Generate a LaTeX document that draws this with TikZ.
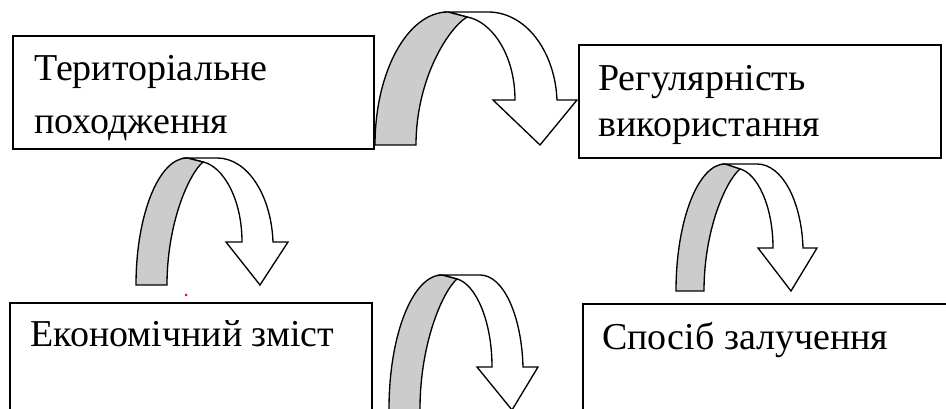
\documentclass[tikz,border=0pt]{standalone}
\usepackage{fontspec}
\setmainfont{Liberation Serif}
\definecolor{bandgray}{RGB}{204,204,204}
\begin{document}
\begin{tikzpicture}[x=0.75pt,y=-0.75pt,
  boxnode/.style={draw=black, line width=1.5pt, fill=white, inner sep=0pt, anchor=north west},
  toptext/.style={inner sep=0pt, anchor=base west, font=\fontsize{28.5}{34}\selectfont},
  bottext/.style={inner sep=0pt, anchor=base west, font=\fontsize{28.5}{34}\selectfont},
  ribbon/.style={draw=black, line width=1pt, line join=miter, fill=white},
  backband/.style={draw=black, line width=1pt, line join=miter, fill=bandgray}]
\clip (0,0) rectangle (946,409);
\fill[white] (0,0) rectangle (946,409);

% boxes
\node[boxnode, minimum width=270.75pt, minimum height=84.75pt] (b1) at (12,35) {};
\node[boxnode, minimum width=271.5pt, minimum height=84.75pt] (b2) at (578,44) {};
\node[boxnode, minimum width=271.5pt, minimum height=111pt] (b3) at (9,302) {};
\node[boxnode, minimum width=283.5pt, minimum height=110.25pt] (b4) at (582,303) {};

% texts
\node[toptext] (t1a) at (34,81) {Територіальне};
\node[toptext] (t1b) at (34,134) {походження};
\node[toptext] (t2a) at (598,91) {Регулярність};
\node[toptext] (t2b) at (598,137) {використання};
\node[bottext] (t3) at (30,347) {Економічний зміст};
\node[bottext] (t4) at (602,350) {Спосіб залучення};

% arrow 1 (top)
\draw[ribbon] (448,12) -- (488,12) .. controls (526,12) and (555,51.6) .. (557,100)
  -- (577,100) -- (540,145) -- (493,100) -- (515,100)
  .. controls (515,54) and (491,21) .. (467,17) -- cycle;
\draw[backband] (375,145) .. controls (375,71.6) and (407.7,12) .. (448,12)
  -- (467,17) .. controls (446.6,29.8) and (416,81) .. (416,145) -- cycle;

% arrow 2 (left middle)
\draw[ribbon] (187,158) -- (217,158) .. controls (247.8,158) and (271.3,195.8) .. (273,242)
  -- (288,242) -- (260,285) -- (226,242) -- (242,242)
  .. controls (242,198) and (222.5,166) .. (203,162) -- cycle;
\draw[backband] (136,285) .. controls (136,214.9) and (158.8,158) .. (187,158)
  -- (203,162) .. controls (188.6,174.3) and (167,223.5) .. (167,285) -- cycle;

% arrow 3 (right middle)
\draw[ribbon] (725,164) -- (757,164) .. controls (782.3,164) and (801.6,201.8) .. (803,248)
  -- (817,248) -- (791,291) -- (758,248) -- (773,248)
  .. controls (773,204.6) and (756.5,173) .. (740,169) -- cycle;
\draw[backband] (676,291) .. controls (676,220.9) and (698,164) .. (725,164)
  -- (740,169) .. controls (725.6,181.2) and (704,230) .. (704,291) -- cycle;

% arrow 4 (bottom middle)
\draw[ribbon] (442,275) -- (480,275) .. controls (503.7,275) and (521.7,316.4) .. (523,367)
  -- (538,367) -- (512,410) -- (477,367) -- (492,367)
  .. controls (492,318.6) and (474.5,283.4) .. (457,279) -- cycle;
\draw[backband] (389,440) -- (389,409) .. controls (389,335) and (412.7,275) .. (442,275)
  -- (457,279) .. controls (442.2,292) and (420,344) .. (420,409) -- (420,440) -- cycle;

% small red dot
\fill[red] (186,295) circle (1.5);
\end{tikzpicture}
\end{document}
